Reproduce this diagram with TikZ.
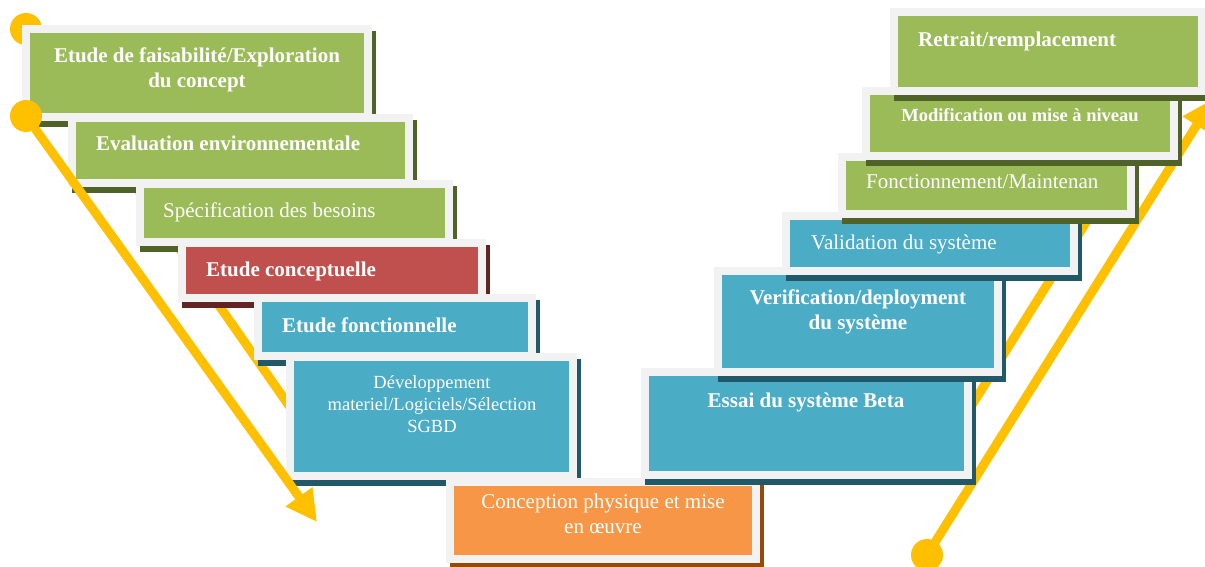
\documentclass[tikz,border=0pt]{standalone}
\usepackage{fontspec}
\setmainfont{Liberation Serif}
\usetikzlibrary{arrows.meta}
\definecolor{framegray}{RGB}{242,242,242}
\definecolor{phasegreen}{RGB}{155,187,89}
\definecolor{phasegreendark}{RGB}{79,98,40}
\definecolor{phasered}{RGB}{192,80,77}
\definecolor{phasereddark}{RGB}{99,37,35}
\definecolor{phaseblue}{RGB}{75,172,198}
\definecolor{phasebluedark}{RGB}{33,89,104}
\definecolor{phaseorange}{RGB}{247,150,70}
\definecolor{phaseorangedark}{RGB}{152,72,7}
\definecolor{arrowyellow}{RGB}{255,192,0}

\begin{document}
\begin{tikzpicture}[x=1pt,y=-1pt,
    lbl/.style={text=white,inner sep=0pt,font=\fontsize{21}{25}\selectfont},
    boldlbl/.style={lbl,font=\fontsize{21}{25}\selectfont\bfseries},
    smalllbl/.style={lbl,font=\fontsize{18.5}{22}\selectfont},
    flow/.style={arrowyellow,line width=9pt}]
    \def\phasebox#1#2#3#4#5{%
      \fill[#5dark] (#1+4,#2+6) rectangle (#3+4,#4+6);
      \fill[framegray] (#1,#2) rectangle (#3,#4);
      \fill[#5] (#1+8,#2+8) rectangle (#3-8,#4-8);}
    \useasboundingbox (0,0) rectangle (1205,567);
    \clip (0,0) rectangle (1205,567);

    % descending branch
    \coordinate (topdot) at (26,29);
    \coordinate (topend) at (306,430);
    \draw[flow] (topdot) -- (topend);
    \fill[arrowyellow] (topdot) circle[radius=16];

    \phasebox{22}{25}{372}{121}{phasegreen}
    \node[boldlbl,align=center,anchor=base] (faisab) at (197,88) {Etude de faisabilité/Exploration\\du concept};

    \phasebox{68}{114}{413}{187}{phasegreen}
    \node[boldlbl,anchor=base west] (envir) at (96,151) {Evaluation environnementale};

    \phasebox{136}{180}{453}{246}{phasegreen}
    \node[lbl,anchor=base west] (besoins) at (163,217) {Spécification des besoins};

    \phasebox{178}{239}{486}{302}{phasered}
    \node[boldlbl,anchor=base west] (concept) at (206,276) {Etude conceptuelle};

    \phasebox{254}{294}{536}{360}{phaseblue}
    \node[boldlbl,anchor=base west] (fonct) at (282,332) {Etude fonctionnelle};

    \phasebox{286}{353}{577}{480}{phaseblue}
    \node[smalllbl,align=center,anchor=base] (devel) at (432,432) {Développement\\materiel/Logiciels/Sélection\\SGBD};

    \coordinate (leftdot) at (26,116);
    \coordinate (lefttip) at (317,522);
    \draw[flow,-{Triangle[length=31pt,width=31pt]}] (leftdot) -- (lefttip);
    \fill[arrowyellow] (leftdot) circle[radius=16];

    % bottom of the V
    \phasebox{446}{478}{760}{563}{phaseorange}
    \node[lbl,align=center,anchor=base] (physique) at (603,533) {Conception physique et mise\\en œuvre};

    % ascending branch
    \coordinate (rightdot) at (927,555);
    \coordinate (righttip) at (1213,99);
    \coordinate (backstart) at (927,477);
    \coordinate (backend) at (1180,72);
    \draw[flow] (backstart) -- (backend);
    \draw[flow,-{Triangle[length=31pt,width=31pt]}] (rightdot) -- (righttip);
    \fill[arrowyellow] (rightdot) circle[radius=16];

    \phasebox{641}{368}{972}{479}{phaseblue}
    \node[boldlbl,anchor=base] (beta) at (806,407) {Essai du système Beta};

    \phasebox{714}{267}{1002}{376}{phaseblue}
    \node[boldlbl,align=center,anchor=base] (deploy) at (858,329) {Verification/deployment\\du système};

    \phasebox{782}{212}{1078}{275}{phaseblue}
    \node[lbl,anchor=base west] (valid) at (811,249) {Validation du système};

    \phasebox{838}{153}{1135}{218}{phasegreen}
    \node[lbl,anchor=base west] (maint) at (866,188) {Fonctionnement/Maintenan};

    \phasebox{862}{87}{1178}{160}{phasegreen}
    \node[boldlbl,font=\fontsize{18.5}{22}\selectfont\bfseries,anchor=base] (modif) at (1020,122) {Modification ou mise à niveau};

    \phasebox{890}{8}{1206}{95}{phasegreen}
    \node[boldlbl,anchor=base west] (retrait) at (918,47) {Retrait/remplacement};
  \end{tikzpicture}
\end{document}
